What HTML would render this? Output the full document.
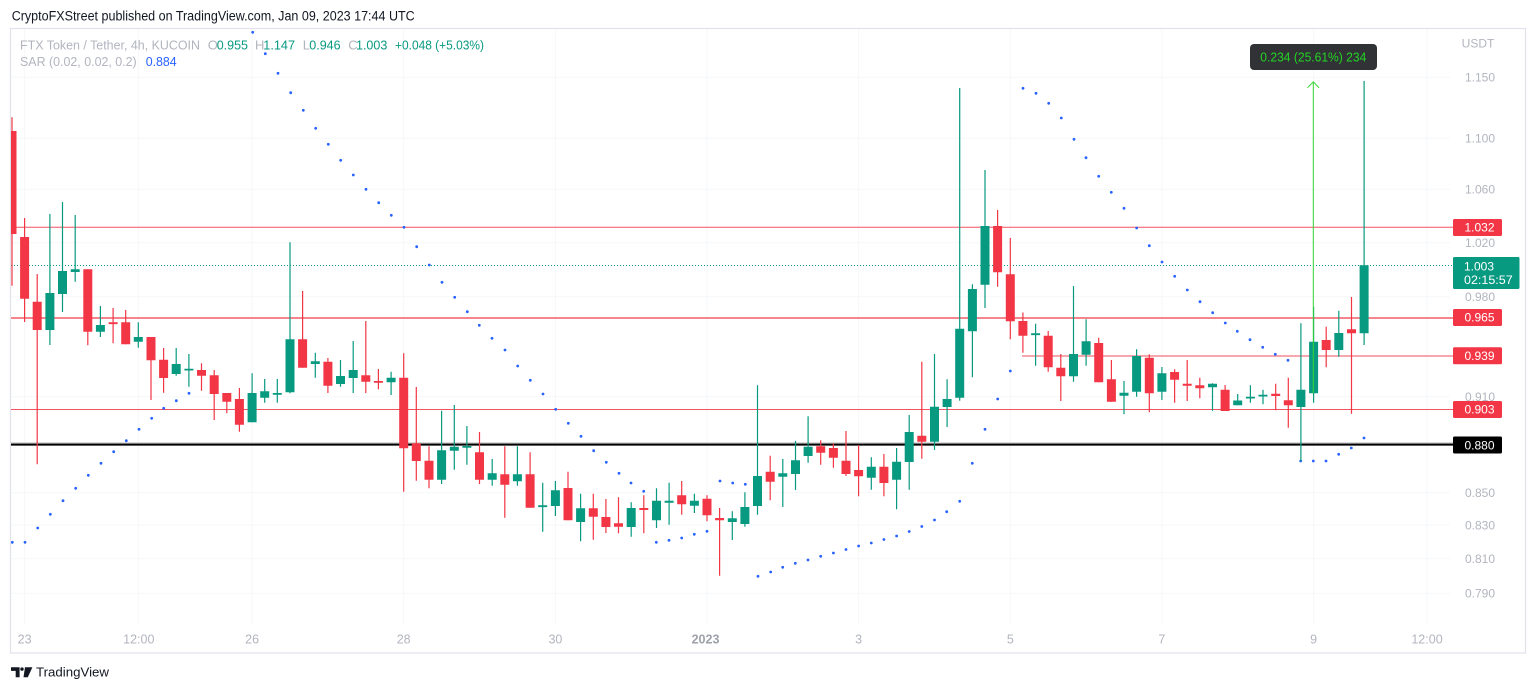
<!DOCTYPE html>
<html><head><meta charset="utf-8"><style>
html,body{margin:0;padding:0;background:#fff;}
svg{display:block;font-family:"Liberation Sans",Arial,sans-serif;}
</style></head><body>
<svg width="1536" height="691" viewBox="0 0 1536 691" xmlns="http://www.w3.org/2000/svg">
<defs><clipPath id="pc"><rect x="11" y="29" width="1442" height="600"/></clipPath></defs>
<rect x="0" y="0" width="1536" height="691" fill="#fff"/>
<text x="11.7" y="20.5" font-size="13.5" fill="#131722" textLength="403" lengthAdjust="spacingAndGlyphs">CryptoFXStreet published on TradingView.com, Jan 09, 2023 17:44 UTC</text>
<rect x="10.5" y="28.5" width="1515" height="624.5" fill="none" stroke="#e0e3eb" stroke-width="1.2"/>
<!-- grid -->
<g stroke="#f6f7f9" stroke-width="1">
<path d="M11,77.3H1450M11,138.3H1450M11,189.3H1450M11,242.7H1450M11,296.7H1450M11,396.7H1450M11,492.7H1450M11,525H1450M11,558.7H1450M11,593.3H1450"/>
<path d="M24.6,29V625M138.3,29V625M252.1,29V625M403.7,29V625M555.4,29V625M707,29V625M858.6,29V625M1010.3,29V625M1161.9,29V625M1313.6,29V625M1427,29V625"/>
</g>
<!-- legend -->
<g font-size="13">
<text x="20" y="49.3" fill="#b2b5be" textLength="180" lengthAdjust="spacingAndGlyphs">FTX Token / Tether, 4h, KUCOIN</text>
<text x="207.7" y="49.3" fill="#b2b5be">O</text>
<text x="216.7" y="49.3" fill="#089981" textLength="31.3" lengthAdjust="spacingAndGlyphs">0.955</text>
<text x="255" y="49.3" fill="#b2b5be">H</text>
<text x="263.3" y="49.3" fill="#089981" textLength="31.7" lengthAdjust="spacingAndGlyphs">1.147</text>
<text x="302.7" y="49.3" fill="#b2b5be">L</text>
<text x="309.3" y="49.3" fill="#089981" textLength="31.3" lengthAdjust="spacingAndGlyphs">0.946</text>
<text x="348.3" y="49.3" fill="#b2b5be">C</text>
<text x="356" y="49.3" fill="#089981" textLength="31.3" lengthAdjust="spacingAndGlyphs">1.003</text>
<text x="395" y="49.3" fill="#089981" textLength="89" lengthAdjust="spacingAndGlyphs">+0.048 (+5.03%)</text>
<text x="20" y="66" fill="#b2b5be" textLength="116.7" lengthAdjust="spacingAndGlyphs">SAR (0.02, 0.02, 0.2)</text>
<text x="145.7" y="66" fill="#2962ff" textLength="31" lengthAdjust="spacingAndGlyphs">0.884</text>
</g>
<!-- horizontal lines -->
<line x1="11" y1="227.2" x2="1453" y2="227.2" stroke="#f23645" stroke-width="1" opacity="0.85"/>
<line x1="11" y1="265.5" x2="1453" y2="265.5" stroke="#089981" stroke-width="1" stroke-dasharray="1 2"/>
<line x1="11" y1="318" x2="1453" y2="318" stroke="#f5848d" stroke-width="2"/>
<line x1="1022" y1="356" x2="1453" y2="356" stroke="#f48a92" stroke-width="1.5"/>
<line x1="11" y1="409.5" x2="1453" y2="409.5" stroke="#f23645" stroke-width="1" opacity="0.85"/>
<line x1="11" y1="443" x2="1453" y2="443" stroke="#b5b5b5" stroke-width="1"/>
<line x1="11" y1="444.6" x2="1453" y2="444.6" stroke="#000" stroke-width="2"/>
<g clip-path="url(#pc)">
<!-- SAR dots -->
<g fill="#2962ff">
<circle cx="12.3" cy="542.3" r="1.4"/><circle cx="25" cy="542.3" r="1.4"/><circle cx="37.7" cy="528" r="1.4"/><circle cx="50.3" cy="514.3" r="1.4"/><circle cx="63" cy="500.7" r="1.4"/><circle cx="75.7" cy="488.3" r="1.4"/><circle cx="88.3" cy="475.3" r="1.4"/><circle cx="101" cy="463.3" r="1.4"/><circle cx="113.7" cy="451.7" r="1.4"/><circle cx="126.3" cy="440.7" r="1.4"/><circle cx="139" cy="429.3" r="1.4"/><circle cx="151.7" cy="418.3" r="1.4"/><circle cx="163.7" cy="408.3" r="1.4"/><circle cx="176.3" cy="400.7" r="1.4"/><circle cx="189" cy="393.3" r="1.4"/>
<circle cx="252.7" cy="32.3" r="1.4"/><circle cx="265.3" cy="53.7" r="1.4"/><circle cx="278" cy="73.3" r="1.4"/><circle cx="290.7" cy="92.7" r="1.4"/><circle cx="303.3" cy="110.3" r="1.4"/><circle cx="315.7" cy="128.3" r="1.4"/><circle cx="328.3" cy="144.3" r="1.4"/><circle cx="340.7" cy="160.3" r="1.4"/><circle cx="353.3" cy="175" r="1.4"/><circle cx="366" cy="189.3" r="1.4"/><circle cx="378.7" cy="202.7" r="1.4"/><circle cx="391.3" cy="215.3" r="1.4"/><circle cx="404" cy="227.3" r="1.4"/><circle cx="416.7" cy="246.7" r="1.4"/><circle cx="429.3" cy="265" r="1.4"/><circle cx="442" cy="282.3" r="1.4"/><circle cx="454.7" cy="297.3" r="1.4"/><circle cx="467.3" cy="311.7" r="1.4"/><circle cx="479.3" cy="325.3" r="1.4"/><circle cx="492" cy="338.3" r="1.4"/><circle cx="505" cy="350" r="1.4"/><circle cx="517.7" cy="366" r="1.4"/><circle cx="530.3" cy="380.3" r="1.4"/><circle cx="543" cy="394" r="1.4"/><circle cx="555.7" cy="409.3" r="1.4"/><circle cx="568.3" cy="423.3" r="1.4"/><circle cx="581" cy="436.3" r="1.4"/><circle cx="593.7" cy="450.7" r="1.4"/><circle cx="606.3" cy="462.3" r="1.4"/><circle cx="619" cy="473.3" r="1.4"/><circle cx="631" cy="483" r="1.4"/><circle cx="643.7" cy="491.3" r="1.4"/>
<circle cx="656.3" cy="542.3" r="1.4"/><circle cx="669" cy="540.3" r="1.4"/><circle cx="681.7" cy="538" r="1.4"/><circle cx="694.3" cy="534.3" r="1.4"/><circle cx="707" cy="531.3" r="1.4"/>
<circle cx="720" cy="481" r="1.4"/><circle cx="732.7" cy="483" r="1.4"/><circle cx="745.3" cy="484.3" r="1.4"/>
<circle cx="758" cy="576.3" r="1.4"/><circle cx="770.7" cy="572" r="1.4"/><circle cx="782.7" cy="567.3" r="1.4"/><circle cx="795.3" cy="563.3" r="1.4"/><circle cx="808" cy="560" r="1.4"/><circle cx="820.7" cy="556.3" r="1.4"/><circle cx="833.4" cy="553" r="1.4"/><circle cx="846" cy="549.5" r="1.4"/><circle cx="858.6" cy="546" r="1.4"/><circle cx="871.3" cy="543" r="1.4"/><circle cx="883.9" cy="539.5" r="1.4"/><circle cx="896.6" cy="536" r="1.4"/><circle cx="909.2" cy="531.5" r="1.4"/><circle cx="921.8" cy="526.5" r="1.4"/><circle cx="934.5" cy="520" r="1.4"/><circle cx="946.7" cy="511.7" r="1.4"/><circle cx="959.7" cy="501.3" r="1.4"/><circle cx="972.3" cy="463.3" r="1.4"/><circle cx="985" cy="429.3" r="1.4"/><circle cx="997.7" cy="399" r="1.4"/><circle cx="1010.3" cy="371" r="1.4"/>
<circle cx="1023" cy="88.3" r="1.4"/><circle cx="1036" cy="93.3" r="1.4"/><circle cx="1048.7" cy="103.3" r="1.4"/><circle cx="1061.3" cy="118" r="1.4"/><circle cx="1074" cy="139.3" r="1.4"/><circle cx="1086" cy="157.7" r="1.4"/><circle cx="1098.7" cy="176.3" r="1.4"/><circle cx="1111.3" cy="192.3" r="1.4"/><circle cx="1124" cy="208.3" r="1.4"/><circle cx="1136.7" cy="228" r="1.4"/><circle cx="1149.3" cy="245.7" r="1.4"/><circle cx="1162" cy="262" r="1.4"/><circle cx="1174.7" cy="276.3" r="1.4"/><circle cx="1187.3" cy="290" r="1.4"/><circle cx="1200" cy="301.7" r="1.4"/><circle cx="1212.7" cy="312.7" r="1.4"/><circle cx="1225.3" cy="323" r="1.4"/><circle cx="1237.3" cy="331.3" r="1.4"/><circle cx="1250" cy="339.7" r="1.4"/><circle cx="1262.7" cy="347.3" r="1.4"/><circle cx="1275.3" cy="354.3" r="1.4"/><circle cx="1288" cy="360.3" r="1.4"/>
<circle cx="1300.7" cy="461" r="1.4"/><circle cx="1313.3" cy="461" r="1.4"/><circle cx="1326" cy="461" r="1.4"/><circle cx="1338.7" cy="454.3" r="1.4"/><circle cx="1351.3" cy="448" r="1.4"/><circle cx="1364" cy="438" r="1.4"/>
</g>
<!-- red candles -->
<path fill="none" stroke="#f23645" stroke-width="1.2" d="M12,117.3V285.7M24.6,218V322M37.2,274V464.3M87.8,269.3V345.3M113.1,308V343.3M125.7,310V344.3M151,337V400M163.6,348V392.7M201.5,363.3V390.7M214.2,370V420M226.8,393V413.3M239.4,388V431.7M302.6,291V367.7M327.9,358V393M365.8,321V393M378.4,369V389.3M403.7,353.3V491.7M416.3,387V480.7M429,446.3V488.3M479.5,432V484M504.8,446.3V517.7M530.1,452.3V507.7M568,471.7V520.3M593.3,493.7V539.7M605.9,499V533M618.5,497.3V533.3M643.8,495.3V533.3M681.7,481V514.7M707,495.3V521.3M719.6,508V575.7M770.2,455.7V500.3M820.7,440.3V464.7M833.4,443.3V467.7M846,431V476M858.6,445V496.3M883.9,454V496.3M921.8,361.7V458.7M997.6,210V286.7M1010.3,238V339.3M1022.9,312.5V352.7M1048.2,331V371.7M1060.8,354V401M1098.7,337.7V382.3M1111.4,360V401.7M1149.3,354.3V412.3M1174.6,369.3V402.7M1187.2,360V401M1199.8,377.7V398.3M1225.1,385V411M1275.7,383.7V410.3M1288.3,377.7V427.7M1326.2,326.7V367.3M1351.5,297V413.7"/>
<path fill="#f23645" d="M7.5,131h9v103h-9zM20.1,237h9v61.7h-9zM32.7,301.7h9v28.3h-9zM83.3,269.3h9v62.4h-9zM108.6,322.3h9v1.8h-9zM121.2,322.3h9v22h-9zM146.5,337h9v23.3h-9zM159.1,359.7h9v18.3h-9zM197,370h9v5.7h-9zM209.7,375.3h9v18.7h-9zM222.3,393h9v8.7h-9zM234.9,399h9v25.7h-9zM298.1,339.3h9v28.4h-9zM323.4,361.7h9v24h-9zM361.3,375.3h9v6.4h-9zM373.9,381h9v1.8h-9zM399.2,377.7h9v70.6h-9zM411.8,443.3h9v17.7h-9zM424.5,460.7h9v19h-9zM475,452.3h9v27.4h-9zM500.3,474.3h9v10.4h-9zM525.6,474.3h9v33.4h-9zM563.5,488h9v32.3h-9zM588.8,508.3h9v8.4h-9zM601.4,517h9v10h-9zM614,523.3h9v3.4h-9zM639.3,508h9v2h-9zM677.2,495.3h9v9h-9zM702.5,498.7h9v16.6h-9zM715.1,518h9v2.3h-9zM765.7,471.7h9v10h-9zM816.2,446.3h9v6.4h-9zM828.9,448h9v9.7h-9zM841.5,460.7h9v13.3h-9zM854.1,470h9v6.3h-9zM879.4,466.7h9v16.3h-9zM917.3,435.7h9v6h-9zM993.1,226h9v46.3h-9zM1005.8,274.3h9v47h-9zM1018.4,321h9v14.7h-9zM1043.7,335.7h9v31.6h-9zM1056.3,367.7h9v8.6h-9zM1094.2,343h9v39.3h-9zM1106.9,379.3h9v22.4h-9zM1144.8,357.7h9v35.6h-9zM1170.1,372h9v7.7h-9zM1182.7,383.7h9v2h-9zM1195.3,385.3h9v3h-9zM1220.6,389.7h9v21.3h-9zM1271.2,393.7h9v2.3h-9zM1283.8,400.3h9v5h-9zM1321.7,340h9v10h-9zM1347,329.3h9v4h-9z"/>
<!-- green candles -->
<path fill="none" stroke="#089981" stroke-width="1.2" d="M49.9,214V345M62.5,202V312M75.2,215V281.7M100.4,306V337M138.3,322.3V347.7M176.2,348V375.7M188.9,354V386.7M252.1,373.3V422.3M264.7,379V402.7M277.3,379V402.7M290,242.3V393.3M315.3,352.7V377.7M340.5,360V386.7M353.2,341V393M391.1,371.7V395M441.6,410.7V484M454.3,405V469.7M466.9,426V464.7M492.2,459V485.7M517.4,446.3V485.7M542.7,482.7V531.7M555.4,481V516M580.6,493.7V541.3M631.2,502.3V536.7M656.5,488.3V528M669.1,482.7V524.7M694.4,493.7V513M732.3,511.3V540M744.9,492.3V526.7M757.5,385.3V514.7M782.8,459V507M795.5,441V490M808.1,416.3V462.7M871.3,457.3V489.7M896.6,448V509.3M909.2,415V489.7M934.5,354V450M947.1,379.3V427M959.7,88V400.7M972.4,284.3V377.3M985,170V308M1035.6,323.7V365.7M1073.5,286V381.7M1086.1,319.3V365.7M1124,381V414.3M1136.6,349.3V396.7M1161.9,367V400M1212.5,383.3V410.7M1237.7,394V405.2M1250.4,385.3V402.7M1263,389.7V404.3M1300.9,323.3V461M1313.6,306.7V402.7M1338.8,310.7V356.7M1364.1,81V345"/>
<path fill="#089981" d="M45.4,293h9v37h-9zM58,271h9v23h-9zM70.7,269.3h9v2.7h-9zM95.9,325h9v6.7h-9zM133.8,337h9v4.7h-9zM171.7,364h9v10h-9zM184.4,368.7h9v1.8h-9zM247.6,393h9v29.3h-9zM260.2,391.3h9v6.4h-9zM272.8,393h9v1.8h-9zM285.5,339.3h9v53h-9zM310.8,361.3h9v2.7h-9zM336,376h9v8h-9zM348.7,370h9v8h-9zM386.6,377.7h9v4.6h-9zM437.1,450.3h9v29.4h-9zM449.8,446.7h9v4h-9zM462.4,446h9v1.8h-9zM487.7,473.3h9v6.4h-9zM512.9,474.3h9v7h-9zM538.2,505.3h9v1.8h-9zM550.9,490.3h9v15.7h-9zM576.1,508.3h9v13.7h-9zM626.7,508h9v19h-9zM652,500.7h9v19.6h-9zM664.6,500.7h9v2h-9zM689.9,500.7h9v5h-9zM727.8,518.3h9v3.7h-9zM740.4,507h9v17h-9zM753,476h9v30h-9zM778.3,473.3h9v3.4h-9zM791,460.3h9v13.7h-9zM803.6,446.7h9v9.3h-9zM866.8,466.7h9v11h-9zM892.1,461.7h9v18h-9zM904.7,432h9v30h-9zM930,406.7h9v35h-9zM942.6,399h9v8h-9zM955.2,328.7h9v69h-9zM967.9,289h9v42.3h-9zM980.5,226h9v58.7h-9zM1031.1,333.3h9v1.8h-9zM1069,354h9v22.3h-9zM1081.6,341.3h9v13.4h-9zM1119.5,392.7h9v3h-9zM1132.1,356h9v35.7h-9zM1157.4,373.3h9v18.4h-9zM1208,383.7h9v3.6h-9zM1233.2,400.5h9v4.7h-9zM1245.9,396.7h9v1.8h-9zM1258.5,394.7h9v1.8h-9zM1296.4,389.7h9v17.3h-9zM1309.1,341.7h9v51.6h-9zM1334.3,333h9v17h-9zM1359.6,265.3h9v68h-9z"/>
<!-- measure tool -->
<line x1="1313.3" y1="393" x2="1313.3" y2="82" stroke="#33d633" stroke-width="1"/>
<polyline points="1307.5,87.8 1313.3,81.8 1319.1,87.8" fill="none" stroke="#33d633" stroke-width="1"/>
</g>
<rect x="1250" y="44" width="127" height="26" rx="4" fill="#303236"/>
<text x="1313.3" y="61.3" font-size="12.8" fill="#25d425" text-anchor="middle" textLength="106" lengthAdjust="spacingAndGlyphs">0.234 (25.61%) 234</text>
<!-- price axis -->
<g font-size="12" fill="#b2b5be" text-anchor="middle">
<text x="1478" y="47.6">USDT</text>
<text x="1480" y="81.6">1.150</text>
<text x="1480" y="142.6">1.100</text>
<text x="1480" y="193.6">1.060</text>
<text x="1480" y="247">1.020</text>
<text x="1480" y="301">0.980</text>
<text x="1480" y="401">0.910</text>
<text x="1480" y="497">0.850</text>
<text x="1480" y="529.3">0.830</text>
<text x="1480" y="563">0.810</text>
<text x="1480" y="597.6">0.790</text>
</g>
<rect x="1453" y="219" width="49" height="17" rx="1.5" fill="#f23645"/>
<rect x="1453" y="257" width="66.5" height="32" rx="1.5" fill="#089981"/>
<rect x="1453" y="309" width="49" height="17" rx="1.5" fill="#f23645"/>
<rect x="1453" y="347.3" width="49" height="17" rx="1.5" fill="#f23645"/>
<rect x="1453" y="401" width="49" height="17" rx="1.5" fill="#f23645"/>
<rect x="1453" y="436.5" width="49" height="17" rx="1.5" fill="#000"/>
<g font-size="12" fill="#fff">
<text x="1479.5" y="231.6" text-anchor="middle">1.032</text>
<text x="1464" y="270.3">1.003</text>
<text x="1464" y="284" textLength="48.7" lengthAdjust="spacingAndGlyphs">02:15:57</text>
<text x="1479.5" y="321.7" text-anchor="middle">0.965</text>
<text x="1479.5" y="360" text-anchor="middle">0.939</text>
<text x="1479.5" y="413.7" text-anchor="middle">0.903</text>
<text x="1479.5" y="449.3" text-anchor="middle">0.880</text>
</g>
<!-- time axis -->
<g font-size="12.5" fill="#b2b5be" text-anchor="middle">
<text x="24.6" y="643.3">23</text>
<text x="138.8" y="643.3">12:00</text>
<text x="252.1" y="643.3">26</text>
<text x="403.7" y="643.3">28</text>
<text x="555.4" y="643.3">30</text>
<text x="705.5" y="643.3" font-weight="bold" fill="#9ea1aa">2023</text>
<text x="858.6" y="643.3">3</text>
<text x="1010.3" y="643.3">5</text>
<text x="1161.9" y="643.3">7</text>
<text x="1313.6" y="643.3">9</text>
<text x="1427" y="643.3">12:00</text>
</g>
<!-- footer logo -->
<g fill="#131722">
<path d="M11,667.2h8.6v10h-3.9v-6.3h-4.7z"/>
<circle cx="22" cy="669.1" r="1.7"/>
<path d="M25,667.2h7.4l-4.6,10h-4.3z"/>
</g>
<text x="36" y="676.4" font-size="13" fill="#131722" textLength="73" lengthAdjust="spacingAndGlyphs">TradingView</text>
</svg>
</body></html>
